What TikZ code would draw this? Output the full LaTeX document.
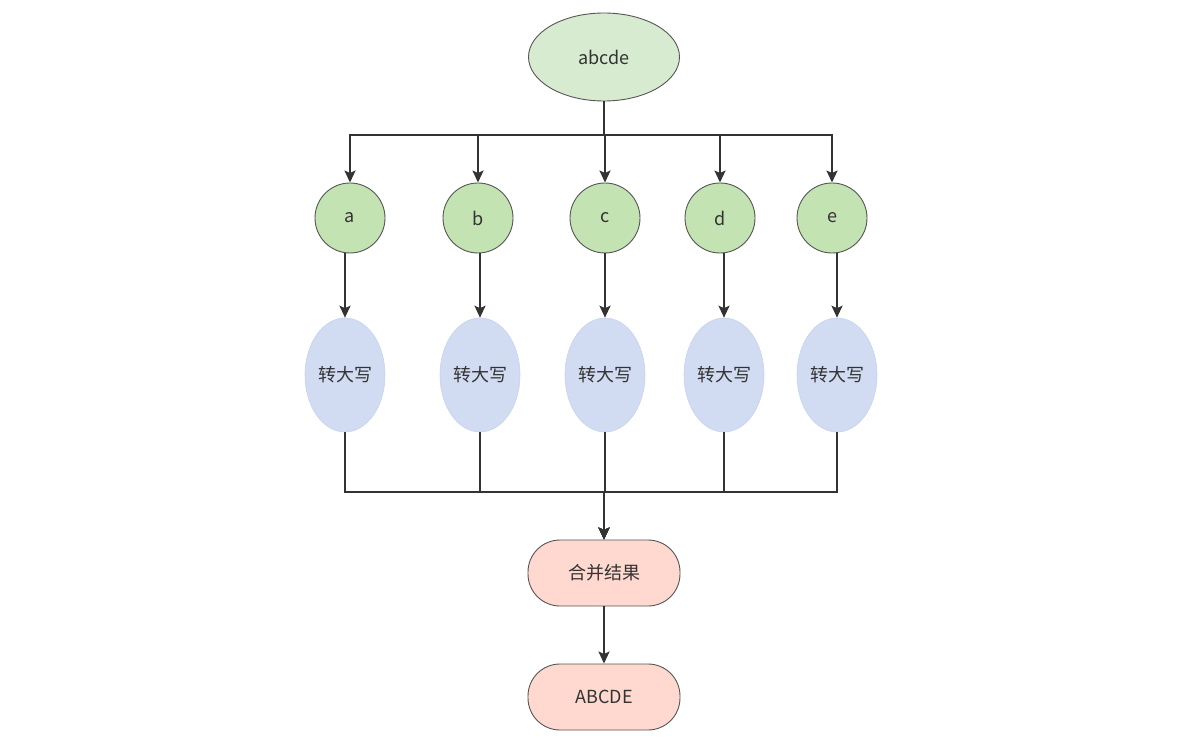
\documentclass[tikz,border=0pt]{standalone}
\usepackage{fontspec}
\setmainfont{Noto Sans CJK SC}
\usetikzlibrary{
  arrows.meta,
  calc,
  positioning,
  shapes,
}
\definecolor{srcfill}{HTML}{D7EBD1}
\definecolor{letterfill}{HTML}{C4E3B2}
\definecolor{upperfill}{HTML}{D1DBF2}
\definecolor{upperline}{HTML}{C6D3EF}
\definecolor{mergefill}{HTML}{FFD9CF}
\definecolor{edge}{HTML}{333333}
\definecolor{border}{HTML}{555555}
\definecolor{ink}{HTML}{333333}
\tikzset{
  x = 1pt,
  y = -1pt,
  >={Stealth[length=12pt,width=11pt,inset=2.5pt]},
  src/.style={
    ellipse, draw=border, fill=srcfill, line width=0.9pt,
    minimum width=151pt, minimum height=88pt, text=ink,
    inner sep=0pt, font=\fontsize{18}{20}\selectfont,
  },
  letter/.style={
    circle, draw=border, fill=letterfill, line width=0.9pt,
    minimum size=70pt, inner sep=0pt, text=ink,
    font=\fontsize{18}{20}\selectfont,
  },
  upper/.style={
    ellipse, draw=upperline, fill=upperfill, line width=0.6pt,
    minimum width=80pt, minimum height=114pt, text=ink,
    inner sep=0pt, font=\fontsize{18}{20}\selectfont,
  },
  pill/.style={
    rectangle, rounded corners=32pt, draw=border, fill=mergefill,
    line width=0.9pt, minimum width=152pt, minimum height=66pt,
    inner sep=0pt, text=ink, font=\fontsize{18}{20}\selectfont,
  },
  link/.style={draw=edge, line width=2.1pt},
}
\begin{document}
\begin{tikzpicture}
  \useasboundingbox (0,0) rectangle (1179,738);
  \node[src](Src) at (604,57){abcde};
  %%
  \node[letter](La) at (350,218){a};
  \node[letter](Lb) at (478,218){b};
  \node[letter](Lc) at (605,218){c};
  \node[letter](Ld) at (720,218){d};
  \node[letter](Le) at (832,218){e};
  %%
  \node[upper](Ua) at (345,375){转大写};
  \node[upper](Ub) at (480,375){转大写};
  \node[upper](Uc) at (605,375){转大写};
  \node[upper](Ud) at (724,375){转大写};
  \node[upper](Ue) at (837,375){转大写};
  %%
  \node[pill](Merge) at (604,573){合并结果};
  \node[pill](Res) at (604,697){ABCDE};
  %%
  \draw[link,->](Src.south) -- ++(0,34) -| (La.north);
  \draw[link,->](Src.south) -- ++(0,34) -| (Lb.north);
  \draw[link,->](Src.south) -- ++(0,34) -| (Lc.north);
  \draw[link,->](Src.south) -- ++(0,34) -| (Ld.north);
  \draw[link,->](Src.south) -- ++(0,34) -| (Le.north);
  %%
  \draw[link,->](La.south -| Ua.north) -- (Ua.north);
  \draw[link,->](Lb.south -| Ub.north) -- (Ub.north);
  \draw[link,->](Lc.south -| Uc.north) -- (Uc.north);
  \draw[link,->](Ld.south -| Ud.north) -- (Ud.north);
  \draw[link,->](Le.south -| Ue.north) -- (Ue.north);
  %%
  \draw[link,->](Ua.south) -- ++(0,60) -| (Merge.north);
  \draw[link,->](Ub.south) -- ++(0,60) -| (Merge.north);
  \draw[link,->](Uc.south) -- ++(0,60) -| (Merge.north);
  \draw[link,->](Ud.south) -- ++(0,60) -| (Merge.north);
  \draw[link,->](Ue.south) -- ++(0,60) -| (Merge.north);
  %%
  \draw[link,->](Merge.south) -- (Res.north);
\end{tikzpicture}
\end{document}
